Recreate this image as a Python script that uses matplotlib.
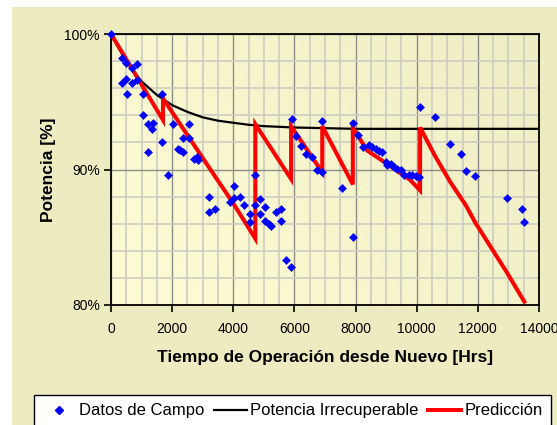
import matplotlib
matplotlib.use('Agg')
import matplotlib.pyplot as plt
import numpy as np
from matplotlib.ticker import MultipleLocator, FuncFormatter
from matplotlib.lines import Line2D
from matplotlib.patches import Rectangle

plt.rcParams['font.family'] = ['Liberation Sans', 'DejaVu Sans']

# ---- Datos de Campo (field data) ----
campo_horas = [0, 350, 480, 680, 840, 350, 500, 690, 850, 515, 1040, 1680, 1040,
               1200, 1360, 1340, 1200, 1680, 1880, 2020, 2540, 2200, 2260, 2370,
               2370, 2540, 2720, 2860, 2810, 3200, 3200, 3390, 3880, 4030, 4030,
               4220, 4360, 4560, 4560, 4720, 4720, 4880, 4880, 5050, 5050, 5160,
               5230, 5400, 5550, 5550, 5740, 5890, 5910, 6040, 6220, 6390, 6570,
               6730, 6910, 6910, 7550, 7900, 7910, 8080, 8230, 8440, 8550, 8660,
               8760, 8880, 8980, 9040, 9150, 9260, 9370, 9480, 9580, 9750, 9860,
               9970, 10080, 10100, 10600, 11090, 11440, 11610, 11910, 12950,
               13440, 13520]
campo_pot = [100.0, 98.2, 97.85, 97.5, 97.8, 96.4, 96.7, 96.4, 96.6, 95.6, 95.6,
             95.6, 94.0, 93.35, 93.4, 93.0, 91.3, 92.0, 89.6, 93.35, 93.35, 91.5,
             91.45, 91.3, 92.3, 92.3, 90.8, 90.7, 90.9, 87.95, 86.9, 87.05, 87.6,
             88.8, 87.9, 87.95, 87.4, 86.75, 86.15, 89.6, 87.4, 87.8, 86.75, 87.2,
             86.2, 85.98, 85.8, 86.9, 87.1, 86.2, 83.3, 82.8, 93.7, 92.5, 91.7,
             91.15, 90.9, 89.95, 89.85, 93.55, 88.6, 93.45, 85.0, 92.55, 91.65,
             91.78, 91.64, 91.52, 91.4, 91.28, 90.54, 90.3, 90.4, 90.17, 90.05,
             89.93, 89.63, 89.63, 89.56, 89.49, 89.43, 94.6, 93.85, 91.9, 91.15,
             89.9, 89.5, 87.9, 87.1, 86.1]

# ---- Potencia Irrecuperable ----
irrec_horas = [0, 500, 1000, 1500, 2000, 2500, 3000, 3500, 4000, 4500, 5000,
               5500, 6000, 7000, 8000, 9000, 10000, 11000, 12000, 13000, 14000]
irrec_pot = [100.0, 97.95, 96.5, 95.5, 94.75, 94.25, 93.85, 93.6, 93.45, 93.3,
             93.2, 93.15, 93.1, 93.05, 93.0, 93.0, 93.0, 93.0, 93.0, 93.0, 93.0]

# ---- Predicción ----
pred_horas = [0, 1700, 1700, 2600, 3400, 4000, 4720, 4720, 5890, 5890, 6910,
              6910, 7910, 7910, 8380, 9040, 9800, 10110, 10110, 10600, 11090,
              11610, 11910, 12950, 13520]
pred_pot = [100.0, 93.65, 95.25, 92.2, 89.5, 87.5, 84.9, 93.35, 89.3, 93.2, 89.8,
            93.2, 88.9, 93.1, 91.4, 90.4, 89.2, 88.45, 93.1, 91.0, 89.1, 87.35,
            86.1, 82.4, 80.25]

x_ticks = [0, 2000, 4000, 6000, 8000, 10000, 12000, 14000]
y_ticks = [80, 90, 100]

W, H = 557, 425
fig = plt.figure(figsize=(W / 100, H / 100), dpi=100, facecolor='white')
fig.patches.append(Rectangle((12 / W, 0), 1 - 12 / W, 1 - 7 / H,
                             transform=fig.transFigure, facecolor='#EDEBC0',
                             edgecolor='none', zorder=-10))

ax = fig.add_axes([111 / W, 1 - 305 / H, (539 - 111) / W, (305 - 34) / H])

# gradient plot background
gx = np.linspace(0, 1, 200)
gy = np.linspace(0, 1, 200)
GX, GY = np.meshgrid(gx, gy)
t = np.clip(0.75 * GX + 0.35 * GY - 0.1, 0, 1)
c0 = np.array([0xFD, 0xFB, 0xD3]) / 255
c1 = np.array([0xEF, 0xED, 0xC4]) / 255
img = c0[None, None, :] * (1 - t[..., None]) + c1[None, None, :] * t[..., None]
ax.imshow(img, extent=[0, 1, 0, 1], transform=ax.transAxes, aspect='auto',
          origin='lower', zorder=-5, interpolation='bilinear')

ax.plot(irrec_horas, irrec_pot, color='black', lw=1.6, zorder=2)
ax.plot(pred_horas, pred_pot, color='#FF0000', lw=2.9, zorder=3,
        solid_joinstyle='miter')
ax.plot(campo_horas, campo_pot, linestyle='none', marker='D', markersize=4.0,
        color='#0000FF', markeredgewidth=0.4, zorder=4, clip_on=False)

ax.set_xlim(0, 14000)
ax.set_ylim(80, 100)
ax.set_xticks(x_ticks)
ax.set_yticks(y_ticks)
ax.xaxis.set_minor_locator(MultipleLocator(500))
ax.yaxis.set_minor_locator(MultipleLocator(2))
ax.yaxis.set_major_formatter(FuncFormatter(lambda v, p: f'{v:.0f}%'))
ax.set_axisbelow(True)
ax.grid(which='minor', color='#CDCDC2', lw=1.2)
ax.grid(which='major', color='#8E8E88', lw=1.0)
ax.tick_params(which='major', direction='out', length=5, width=1.2,
               labelsize=10, colors='black')
ax.tick_params(axis='x', pad=7)
ax.tick_params(axis='y', pad=3)
ax.tick_params(which='minor', length=0)
for s in ax.spines.values():
    s.set_linewidth(1.3)
    s.set_color('black')

ax.set_xlabel('Tiempo de Operación desde Nuevo [Hrs]', fontsize=12.5,
              fontweight='bold', labelpad=10)
ax.set_ylabel('Potencia [%]', fontsize=12.5, fontweight='bold', labelpad=6)

handles = [Line2D([], [], linestyle='none', marker='D', markersize=4.0,
                  color='#0000FF'),
           Line2D([], [], color='black', lw=1.6),
           Line2D([], [], color='#FF0000', lw=2.9)]
labels = ['Datos de Campo', 'Potencia Irrecuperable', 'Predicción']
leg = fig.legend(handles, labels, loc='upper left',
                 bbox_to_anchor=(34 / W, 1 - 395 / H), ncol=3, fontsize=12,
                 frameon=True, fancybox=False, edgecolor='black', facecolor='white',
                 framealpha=1, borderaxespad=0, handlelength=2.0,
                 handletextpad=0.2, columnspacing=0.55, borderpad=0.5)
leg.get_frame().set_linewidth(1.0)

fig.savefig('out.png', dpi=100, facecolor=fig.get_facecolor())
